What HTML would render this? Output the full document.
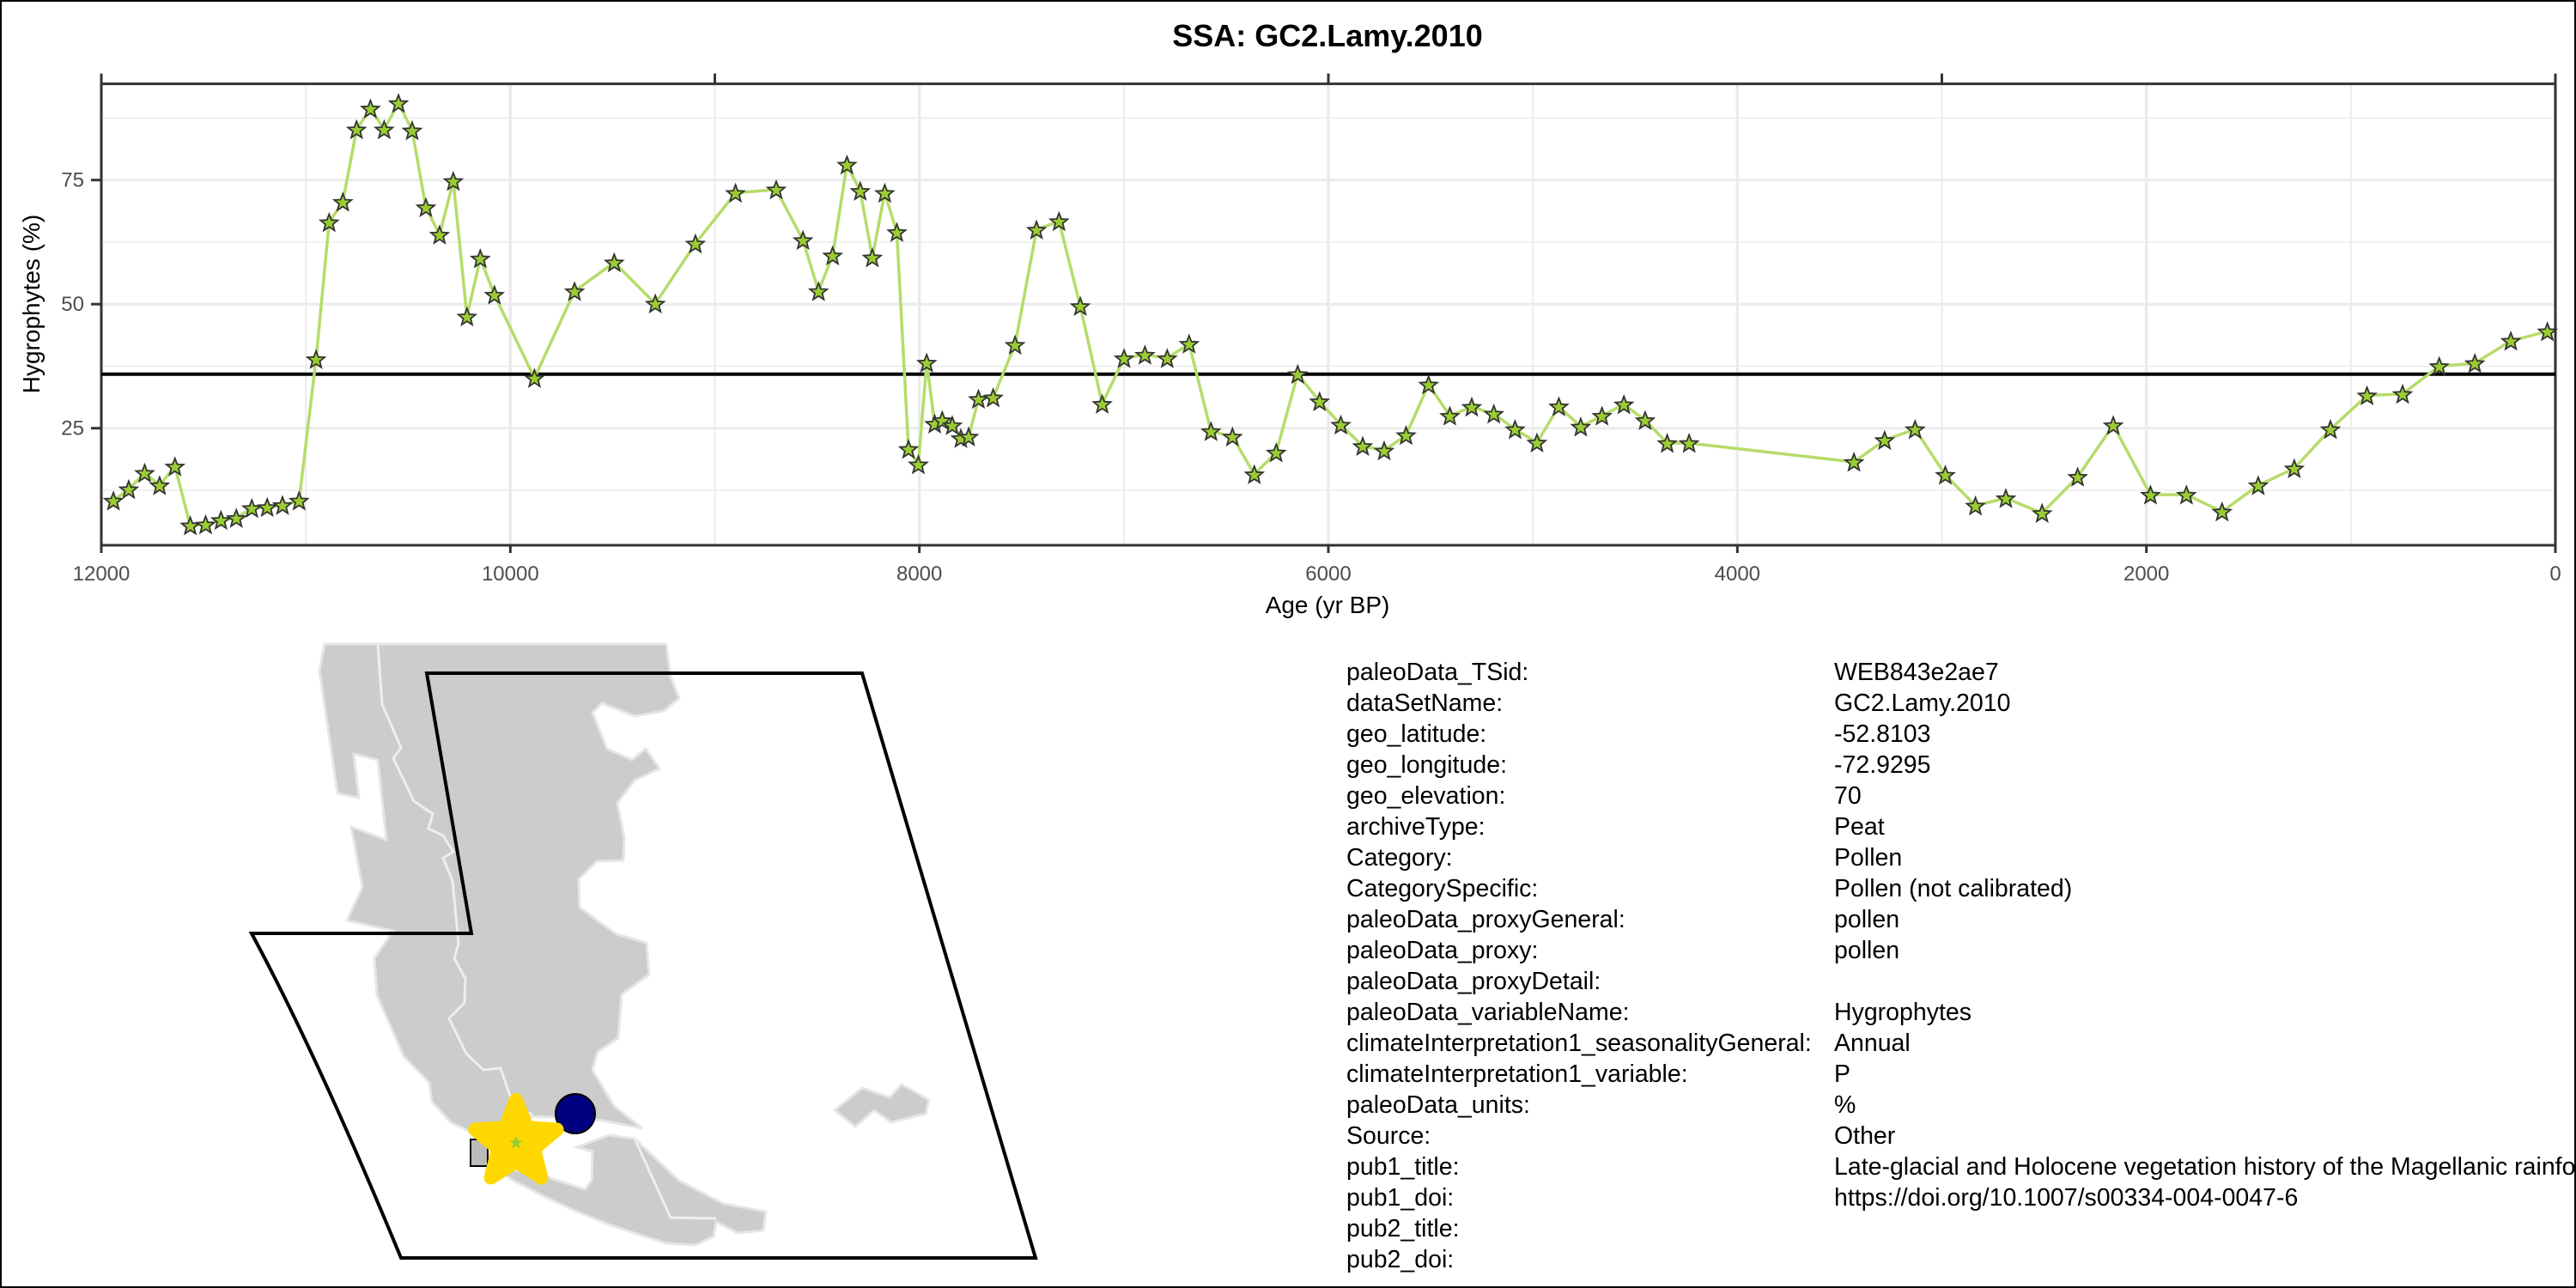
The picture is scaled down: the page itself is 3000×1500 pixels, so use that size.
<!DOCTYPE html>
<html><head><meta charset="utf-8"><style>
html,body{margin:0;padding:0;background:#fff;}
svg{display:block;font-family:"Liberation Sans",Arial,sans-serif;}
</style></head><body>
<svg id="root" width="3000" height="1500" viewBox="0 0 3000 1500" xmlns="http://www.w3.org/2000/svg">
<rect x="1" y="1" width="2998" height="1498" fill="#fff" stroke="#000" stroke-width="2"/>
<text x="1546" y="54" font-size="36" font-weight="bold" text-anchor="middle">SSA: GC2.Lamy.2010</text>
<g id="grid"></g>
<g id="axes"></g>
<g id="series"></g>
<text x="1546" y="714" font-size="28" text-anchor="middle">Age (yr BP)</text>
<text transform="translate(46,354) rotate(-90)" font-size="28" text-anchor="middle">Hygrophytes (%)</text>

<g>
<path fill="#cccccc" stroke="#e6e6e6" stroke-width="3" d="M378,750 L776,750 L781,788 L791,813 L773,828 L739,834 L701,819 L690,830 L707,872 L736,885 L752,872 L768,895 L739,909 L719,935 L727,975 L726,1002 L695,1003 L674,1024 L675,1057 L718,1088 L753,1098 L756,1135 L724,1158 L720,1209 L696,1225 L690,1246 L715,1288 L748,1314 L702,1305 L665,1302 L620,1300 L586,1314 L549,1319 L525,1307 L503,1283 L500,1261 L470,1230 L439,1159 L436,1116 L458,1084 L404,1072 L422,1033 L409,963 L450,978 L440,885 L412,878 L418,929 L393,924 L372,781 Z"/>
<path fill="#cccccc" stroke="#e6e6e6" stroke-width="3" d="M672,1336 L709,1322 L739,1326 L791,1375 L843,1402 L892,1411 L889,1433 L859,1436 L834,1423 L831,1440 L810,1450 L776,1448 L745,1438 L709,1426 L672,1411 L635,1394 L598,1375 L568,1356 L635,1370 L681,1385 L689,1375 L690,1341 Z"/>
<path fill="#cccccc" stroke="#e6e6e6" stroke-width="3" d="M972,1293 L1004,1267 L1036,1278 L1050,1263 L1082,1281 L1078,1297 L1038,1307 L1018,1293 L996,1312 Z"/>
<polyline fill="none" stroke="#eeeeee" stroke-width="3" points="440,750 445,820 467,871 458,883 482,933 504,948 499,965 516,973 528,992 516,999 527,1026 534,1099 529,1116 542,1140 541,1168 523,1186 543,1227 563,1246 583,1244 598,1288 620,1298"/>
<polyline fill="none" stroke="#eeeeee" stroke-width="3" points="739,1326 781,1418 834,1419"/>
<path fill="none" stroke="#000" stroke-width="4" d="M497,784 L1004,784 Q1110,1140 1206,1465 L467,1465 Q370,1230 293,1087 L549,1087 Z"/>
<rect x="548" y="1327" width="20" height="31" fill="#bbb" stroke="#000" stroke-width="2"/>
<circle cx="670" cy="1297" r="23" fill="#000080" stroke="#000" stroke-width="2"/>
<polygon id="bigstar" fill="#ffd700" stroke="#ffd700" stroke-width="16" stroke-linejoin="round"/>
<polygon id="smallstar" fill="#9acd32"/>
</g>

<g id="meta" font-size="28.5"></g>
</svg>
<script>
const ages = [11941,11866,11788,11715,11640,11565,11490,11415,11340,11264,11189,11114,11033,10950,10886,10819,10752,10684,10617,10547,10480,10413,10346,10279,10212,10147,10078,9882,9686,9492,9291,9095,8899,8700,8569,8493,8424,8354,8289,8230,8169,8110,8053,8005,7964,7925,7888,7839,7797,7759,7711,7639,7532,7427,7317,7213,7106,6999,6897,6788,6681,6574,6469,6362,6255,6150,6043,5939,5832,5727,5620,5510,5406,5299,5191,5087,4980,4873,4766,4662,4555,4451,4343,4236,3430,3280,3131,2983,2836,2687,2510,2336,2162,1980,1804,1630,1453,1277,1100,921,747,568,394,218,39];
const values = [10.4,12.7,16.0,13.5,17.3,5.4,5.6,6.5,6.9,8.9,9.1,9.5,10.4,38.9,66.5,70.6,85.2,89.4,85.2,90.5,85.0,69.5,64.0,74.8,47.5,59.2,51.9,35.1,52.6,58.4,50.1,62.2,72.4,73.1,62.9,52.6,59.8,78.1,72.8,59.4,72.4,64.5,20.8,17.7,38.2,25.9,26.6,25.6,23.0,23.3,30.9,31.2,41.8,65.0,66.7,49.6,29.9,39.1,39.8,39.1,42.0,24.4,23.3,15.7,20.1,35.9,30.4,25.7,21.4,20.5,23.6,33.8,27.5,29.3,27.9,24.8,22.1,29.4,25.3,27.5,29.8,26.6,22.0,22.0,18.2,22.6,24.8,15.6,9.4,10.9,7.9,15.2,25.6,11.6,11.6,8.2,13.5,16.9,24.8,31.6,31.9,37.5,38.1,42.6,44.5];
const meanValue = [35.9];
const xTicks = [12000,10000,8000,6000,4000,2000,0];
const xTickLabels = ["12000","10000","8000","6000","4000","2000","0"];
const xMinor = [11000,9000,7000,5000,3000,1000];
const topTicks = [12000,9000,6000,3000,0];
const yTicks = [25,50,75];
const yTickLabels = ["25","50","75"];
const yMinor = [12.5,37.5,62.5,87.5];
const metaKeys = ["paleoData_TSid:","dataSetName:","geo_latitude:","geo_longitude:","geo_elevation:","archiveType:","Category:","CategorySpecific:","paleoData_proxyGeneral:","paleoData_proxy:","paleoData_proxyDetail:","paleoData_variableName:","climateInterpretation1_seasonalityGeneral:","climateInterpretation1_variable:","paleoData_units:","Source:","pub1_title:","pub1_doi:","pub2_title:","pub2_doi:"];
const metaVals = ["WEB843e2ae7","GC2.Lamy.2010","-52.8103","-72.9295","70","Peat","Pollen","Pollen (not calibrated)","pollen","pollen","","Hygrophytes","Annual","P","%","Other","Late-glacial and Holocene vegetation history of the Magellanic rainforest","https://doi.org/10.1007/s00334-004-0047-6","",""];

const NS="http://www.w3.org/2000/svg";
const L=118,R=2976,T=97.6,B=635;
const x = a => L + (12000-a)/12000*(R-L);
const y = v => 643.2 - v*5.78;
function mk(tag, attrs, parent){const e=document.createElementNS(NS,tag);for(const k in attrs)e.setAttribute(k,attrs[k]);parent.appendChild(e);return e;}
const grid=document.getElementById('grid'), axes=document.getElementById('axes'), series=document.getElementById('series'), meta=document.getElementById('meta');

yMinor.forEach(v=>{const e=mk('line',{x1:L,x2:R,y1:y(v),y2:y(v),stroke:'#ebebeb','stroke-width':1.5},grid);

});
xMinor.forEach(a=>{const e=mk('line',{x1:x(a),x2:x(a),y1:T,y2:B,stroke:'#ebebeb','stroke-width':2},grid);

});
yTicks.forEach((v,i)=>{const e=mk('line',{x1:L,x2:R,y1:y(v),y2:y(v),stroke:'#ebebeb','stroke-width':3},grid);


const t=mk('line',{x1:L-12,x2:L,y1:y(v),y2:y(v),stroke:'#333','stroke-width':3},axes);


const lb=mk('text',{x:L-20,y:y(v)+8,'font-size':24,fill:'#4d4d4d','text-anchor':'end'},axes);lb.textContent=yTickLabels[i];

});
xTicks.forEach((a,i)=>{const e=mk('line',{x1:x(a),x2:x(a),y1:T,y2:B,stroke:'#ebebeb','stroke-width':3.5},grid);


const t=mk('line',{x1:x(a),x2:x(a),y1:B,y2:B+9,stroke:'#333','stroke-width':3},axes);


const lb=mk('text',{x:x(a),y:676,'font-size':24,fill:'#4d4d4d','text-anchor':'middle'},axes);lb.textContent=xTickLabels[i];

});
topTicks.forEach(a=>{const t=mk('line',{x1:x(a),x2:x(a),y1:T-12,y2:T,stroke:'#333','stroke-width':3},axes);

});
[[L,T,R,T,'top-axis-line'],[L,B,R,B,'x-axis-line'],[L,T,L,B,'y-axis-line'],[R,T,R,B,'right-axis-line']].forEach(s=>{const e=mk('line',{x1:s[0],y1:s[1],x2:s[2],y2:s[3],stroke:'#333','stroke-width':3},axes);

});

const ml=mk('line',{x1:L,x2:R,y1:y(meanValue[0]),y2:y(meanValue[0]),stroke:'#000','stroke-width':4},series);


const pl=mk('polyline',{points:ages.map((a,i)=>x(a)+','+y(values[i])).join(' '),fill:'none',stroke:'#b5dc6a','stroke-width':3.5},series);


function starPts(cx,cy,ro,ri){let p=[];for(let k=0;k<10;k++){const r=k%2?ri:ro;const an=-Math.PI/2+k*Math.PI/5;p.push((cx+r*Math.cos(an)).toFixed(1)+','+(cy+r*Math.sin(an)).toFixed(1));}return p.join(' ');}
ages.forEach((a,i)=>{const s=mk('polygon',{points:starPts(x(a),y(values[i])+1,10.5,4.5),fill:'#9acd32',stroke:'#333','stroke-width':1.8},series);

});

document.getElementById('bigstar').setAttribute('points',starPts(601,1331,50,22));
document.getElementById('smallstar').setAttribute('points',starPts(601,1331,8,3.5));

metaKeys.forEach((k,i)=>{const yy=792+i*36;
const a=mk('text',{x:1568,y:yy},meta);a.textContent=k;


const b=mk('text',{x:2136,y:yy},meta);b.textContent=metaVals[i];

});
</script>
</body></html>
